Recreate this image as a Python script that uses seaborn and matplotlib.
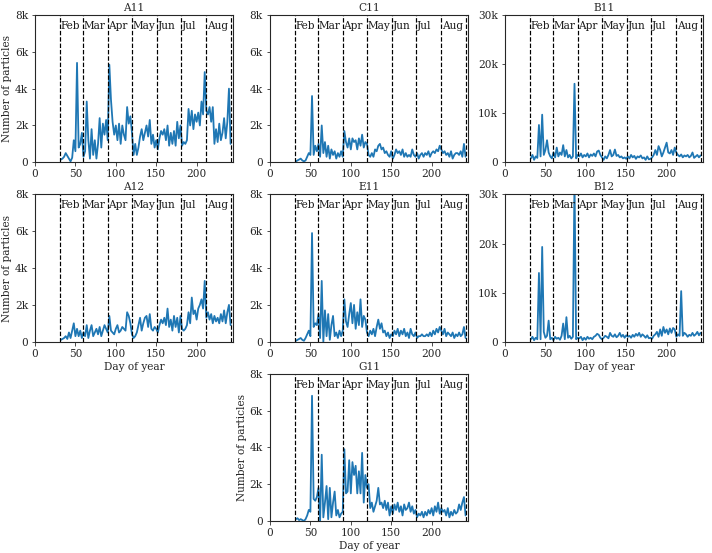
import matplotlib
matplotlib.use("Agg")
import matplotlib.pyplot as plt
import seaborn as sns
from matplotlib.ticker import FuncFormatter

# ---------------- data ----------------
days = list(range(32, 244, 2))  # day of year (sampled)

A11 = [150, 200, 300, 500, 350, 200, 50, 250, 1200, 600,
       5400, 800, 1000, 1600, 300, 600, 3300, 1200, 200, 1800,
       400, 1200, 200, 1000, 2400, 800, 2100, 1500, 2300, 1200,
       5300, 3400, 2200, 1500, 2000, 1200, 2100, 1000, 2000, 1500,
       1200, 3000, 2100, 2500, 1600, 400, 1000, 400, 800, 1400,
       1800, 1200, 1600, 2000, 1400, 2300, 1000, 1500, 800, 1200,
       700, 1300, 1700, 1500, 1800, 1200, 2000, 900, 1600, 1000,
       1700, 900, 2200, 1300, 2000, 900, 1100, 1000, 1200, 2900,
       2000, 2800, 1800, 2600, 2200, 2700, 2000, 3300, 2600, 4900,
       2800, 2600, 3000, 2200, 3000, 1000, 1800, 1100, 2100, 1200,
       1600, 2400, 1300, 2200, 4000, 1000]

C11 = [50, 100, 150, 200, 100, 50, 100, 300, 500, 400,
       3600, 400, 900, 600, 1000, 300, 2000, 500, 1100, 300,
       900, 200, 700, 400, 600, 200, 500, 300, 600, 300,
       1700, 1100, 800, 1300, 700, 1300, 1100, 1200, 700, 1300,
       900, 1500, 800, 1100, 1000, 400, 300, 500, 300, 700,
       600, 900, 1000, 700, 800, 500, 600, 400, 300, 600,
       200, 400, 700, 500, 600, 400, 700, 300, 500, 300,
       400, 300, 700, 400, 300, 500, 200, 400, 500, 300,
       500, 400, 600, 300, 500, 600, 500, 700, 600, 900,
       700, 500, 600, 400, 500, 300, 600, 200, 400, 500,
       500, 400, 600, 300, 1000, 300]

B11 = [800, 1500, 500, 1200, 900, 7600, 1200, 9700, 1500, 2500,
       4500, 2000, 1200, 800, 2000, 1000, 3000, 1200, 2000, 1500,
       3500, 1200, 2500, 1000, 1500, 800, 1200, 16000, 800, 1500,
       1200, 1800, 1000, 1500, 1200, 1800, 1000, 1600, 1300, 1800,
       1200, 2200, 2400, 1500, 1000, 500, 1200, 800, 1500, 2500,
       1200, 1500, 2600, 1300, 1500, 1000, 1200, 800, 1000, 700,
       1200, 800, 1500, 1000, 1300, 700, 1200, 1000, 1400, 800,
       1000, 500, 1200, 600, 700, 1000, 1500, 2500, 1500, 3300,
       2500, 1200, 2000, 3000, 4000, 2000, 1800, 2500, 1500, 3000,
       2000, 1500, 1200, 1600, 1000, 1400, 1200, 1500, 1000, 1300,
       2000, 900, 1200, 1500, 1000, 1400]

A12 = [100, 150, 200, 300, 150, 500, 200, 600, 1000, 300,
       700, 300, 600, 200, 500, 300, 900, 200, 600, 900,
       300, 500, 700, 400, 800, 300, 600, 900, 700, 500,
       1400, 600, 500, 400, 700, 900, 500, 600, 800, 700,
       600, 1600, 1400, 1000, 400, 200, 300, 500, 900, 1300,
       600, 1000, 1300, 1400, 800, 1500, 700, 600, 800, 700,
       500, 900, 1200, 1000, 1300, 900, 1800, 800, 1200, 600,
       1400, 800, 1300, 500, 1400, 700, 600, 700, 900, 1600,
       1000, 2400, 1500, 1700, 1200, 1800, 2000, 2300, 1800, 3300,
       1300, 1600, 1200, 1500, 1000, 1400, 1100, 1300, 1000, 1500,
       1100, 1700, 1000, 1600, 2000, 900]

E11 = [50, 100, 150, 200, 100, 50, 200, 400, 600, 300,
       5900, 800, 1000, 900, 1500, 200, 3300, 0, 1700, 300,
       1500, 100, 900, 1400, 300, 500, 200, 600, 300, 600,
       2300, 1100, 800, 1500, 2100, 1000, 2000, 700, 1600, 900,
       2300, 800, 1400, 1200, 500, 300, 600, 400, 700, 300,
       800, 1200, 700, 1000, 500, 600, 300, 500, 200, 400,
       300, 600, 400, 700, 300, 600, 400, 700, 300, 500,
       200, 700, 400, 300, 500, 200, 300, 300, 400, 300,
       300, 400, 300, 500, 300, 600, 400, 700, 500, 800,
       600, 400, 700, 300, 500, 400, 300, 500, 200, 400,
       300, 500, 300, 400, 800, 200]

B12 = [500, 1000, 300, 800, 500, 14000, 500, 19300, 2000, 800,
       1200, 4300, 500, 800, 300, 1000, 600, 800, 400, 1200,
       3700, 500, 5000, 800, 1200, 600, 1000, 33000, 500, 800,
       700, 1000, 300, 800, 400, 1000, 600, 800, 500, 1000,
       1200, 1600, 1400, 800, 500, 800, 1200, 1000, 700, 1800,
       1200, 1000, 1500, 900, 1200, 1800, 1000, 1400, 800, 1300,
       1000, 1200, 800, 1400, 1000, 1600, 1200, 1800, 1000, 1500,
       1200, 800, 1300, 700, 800, 600, 1200, 1500, 2000, 1000,
       2500, 1200, 3000, 1800, 2500, 1500, 2700, 1800, 2800, 2500,
       1000, 1500, 1200, 10300, 1200, 1800, 1500, 1000, 1400, 1200,
       1800, 1200, 1500, 2000, 1300, 1800]

G11 = [100, 150, 50, 100, 50, 0, 100, 300, 600, 500,
       6800, 1200, 1100, 1300, 1800, 0, 3600, 200, 1000, 1900,
       100, 1800, 200, 1000, 1600, 300, 600, 200, 400, 500,
       3900, 1500, 1600, 3300, 1500, 3200, 2500, 3000, 1500, 2700,
       1500, 3700, 1000, 2500, 1800, 2000, 700, 1000, 500, 800,
       1100, 1800, 900, 1000, 700, 1100, 600, 1000, 300, 800,
       400, 900, 600, 1000, 500, 800, 300, 900, 600, 700,
       1000, 500, 800, 400, 600, 200, 400, 300, 500, 200,
       500, 300, 600, 400, 700, 300, 800, 500, 1000, 400,
       700, 500, 600, 300, 700, 200, 500, 300, 600, 400,
       500, 900, 600, 1000, 1300, 300]

month_starts = [31, 59, 90, 120, 151, 181, 212, 243]
month_names = ["Feb", "Mar", "Apr", "May", "Jun", "Jul", "Aug"]

# ---------------- style ----------------
sns.set_style("ticks")
plt.rcParams["font.family"] = ["DejaVu Serif"]
FS = 10.5
plt.rcParams.update({
    "font.size": FS,
    "axes.titlesize": FS,
    "axes.labelsize": FS,
    "xtick.labelsize": FS,
    "ytick.labelsize": FS,
    "xtick.major.size": 3.5,
    "ytick.major.size": 3.5,
    "axes.linewidth": 1.1,
})

W, H = 712, 553
DPI = 72
fig = plt.figure(figsize=(W / DPI, H / DPI), dpi=DPI)

col_left = [35, 270, 505]
row_bottom = [162.3, 341.7, 521]
aw, ah = 198, 147.3

panels = [
    ("A11", A11, 0, 0, 8000, True, False),
    ("C11", C11, 0, 1, 8000, False, False),
    ("B11", B11, 0, 2, 30000, False, False),
    ("A12", A12, 1, 0, 8000, True, True),
    ("E11", E11, 1, 1, 8000, False, False),
    ("B12", B12, 1, 2, 30000, False, True),
    ("G11", G11, 2, 1, 8000, True, True),
]

fmt = FuncFormatter(lambda v, p: "0" if v == 0 else f"{int(round(v / 1000))}k")

for name, vals, r, c, ymax, ylab, xlab in panels:
    ax = fig.add_axes([col_left[c] / W, 1 - row_bottom[r] / H, aw / W, ah / H])
    sns.lineplot(x=days, y=vals, ax=ax, color="#1f77b4", linewidth=1.8)
    for m in month_starts:
        ax.axvline(m, color="black", linestyle="--", linewidth=1.2)
    for m, nm in zip(month_starts[:-1], month_names):
        ax.text(m + 1, 0.925, nm, transform=ax.get_xaxis_transform(),
                ha="left", va="center", fontsize=FS, color="0.1")
    ax.set_xlim(0, 245)
    ax.set_ylim(0, ymax)
    ax.set_xticks([0, 50, 100, 150, 200])
    if ymax == 8000:
        ax.set_yticks([0, 2000, 4000, 6000, 8000])
    else:
        ax.set_yticks([0, 10000, 20000, 30000])
    ax.yaxis.set_major_formatter(fmt)
    ax.set_title(name, pad=4)
    ax.set_ylabel("Number of particles" if ylab else "", labelpad=3)
    ax.set_xlabel("Day of year" if xlab else "", labelpad=3)

fig.savefig("out.png", dpi=DPI)
